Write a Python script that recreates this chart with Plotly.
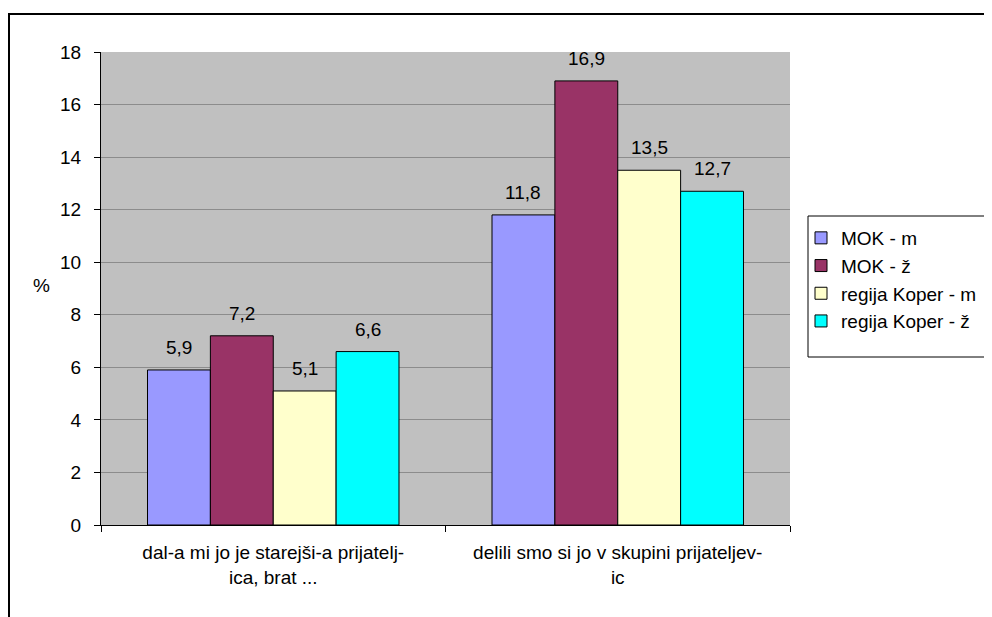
import plotly.graph_objects as go

categories = [
    "dal-a mi jo je starejši-a prijatelj-<br>ica, brat ...",
    "delili smo si jo v skupini prijateljev-<br>ic",
]
series_names = ["MOK - m", "MOK - ž", "regija Koper - m", "regija Koper - ž"]
mok_m = [5.9, 11.8]
mok_z = [7.2, 16.9]
koper_m = [5.1, 13.5]
koper_z = [6.6, 12.7]
colors = ["#9999FF", "#993366", "#FFFFCC", "#00FFFF"]

FONT = "Liberation Sans, Arial, sans-serif"
FS = 19

# page body has an 8px margin, so work in figure pixels
W, H = 984, 609
L, R, T, B = 93, 202, 44, 92
pw, ph = W - L - R, H - T - B
BARGAP = 0.27


def px_x(x):
    return (x - L) / pw


def px_y(y):
    return (H - B - y) / ph


all_series = [mok_m, mok_z, koper_m, koper_z]

fig = go.Figure()
for name, vals, col in zip(series_names, all_series, colors):
    fig.add_trace(go.Bar(
        x=categories,
        y=vals,
        name=name,
        marker=dict(color=col, line=dict(color="black", width=1)),
    ))

# value labels, placed a bit above each bar like the original
cat_w = pw / len(categories)
bar_w = cat_w * (1 - BARGAP) / len(all_series)
annotations = []
for i, vals in enumerate(all_series):
    for cat, v in zip(categories, vals):
        annotations.append(dict(
            x=cat, y=v, xref="x", yref="y",
            text=f"{v:.1f}".replace(".", ","),
            showarrow=False, yanchor="bottom",
            xshift=(i - (len(all_series) - 1) / 2) * bar_w, yshift=10,
            font=dict(size=FS, color="black"),
        ))

annotations.append(dict(
    text="%", xref="paper", yref="paper", x=px_x(34), y=px_y(277),
    xanchor="center", yanchor="middle",
    showarrow=False, font=dict(size=FS),
))

fig.update_layout(
    width=W, height=H,
    margin=dict(l=L, r=R, t=T, b=B, autoexpand=False),
    paper_bgcolor="white",
    plot_bgcolor="#C0C0C0",
    font=dict(family=FONT, size=FS, color="black"),
    barmode="group",
    bargap=BARGAP,
    bargroupgap=0,
    showlegend=True,
    legend=dict(
        x=px_x(793), y=px_y(211), xanchor="left", yanchor="top",
        bgcolor="rgba(0,0,0,0)", borderwidth=0,
        font=dict(size=FS), itemwidth=30,
    ),
    shapes=[
        # outer frame
        dict(
            type="rect", xref="paper", yref="paper",
            x0=px_x(1), x1=px_x(1000), y0=px_y(630), y1=px_y(6),
            line=dict(color="black", width=2), fillcolor="rgba(0,0,0,0)",
            layer="below",
        ),
        # legend box
        dict(
            type="rect", xref="paper", yref="paper",
            x0=px_x(800), x1=px_x(990), y0=px_y(349), y1=px_y(208),
            line=dict(color="black", width=1), fillcolor="white",
            layer="below",
        ),
    ],
    annotations=annotations,
)

fig.update_xaxes(
    showline=True, linecolor="black", linewidth=1,
    ticks="outside", ticklen=6, tickson="boundaries", tickcolor="black",
    tickfont=dict(size=FS), showgrid=False, ticklabelstandoff=10,
)
fig.update_yaxes(
    range=[0, 18], dtick=2,
    showline=True, linecolor="black", linewidth=1,
    ticks="outside", ticklen=6, tickcolor="black",
    gridcolor="#8C8C8C", gridwidth=1,
    tickfont=dict(size=FS), zeroline=False, ticklabelstandoff=9,
)

fig.write_html("out.html")
